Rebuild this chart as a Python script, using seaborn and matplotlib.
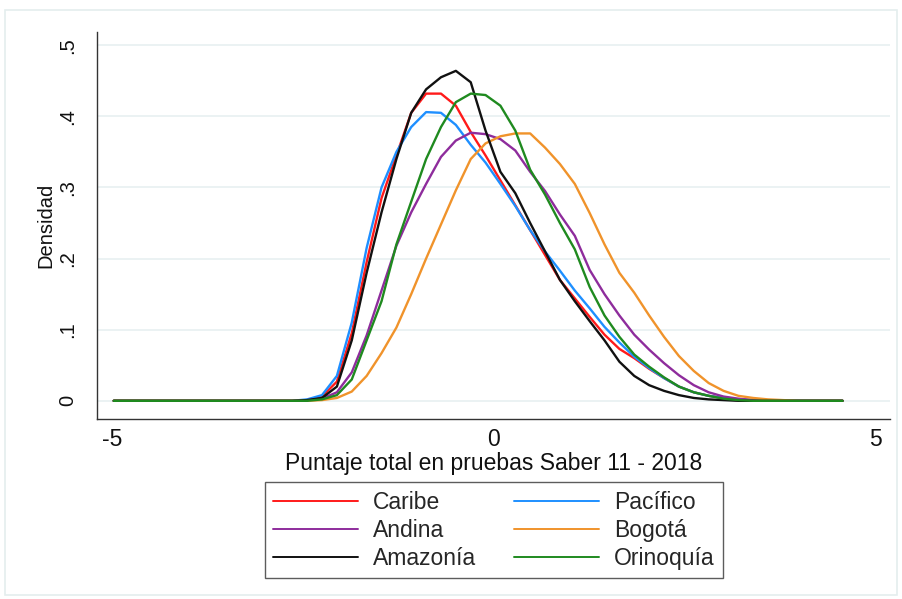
import matplotlib
matplotlib.use("Agg")
import matplotlib.pyplot as plt
import seaborn as sns
import pandas as pd
from matplotlib.patches import Rectangle
from matplotlib.lines import Line2D

# ---- data ----
x_grid = [-4.98, -2.641, -2.446, -2.251, -2.056, -1.861, -1.666, -1.471, -1.276,
          -1.082, -0.887, -0.692, -0.497, -0.302, -0.108, 0.087, 0.282, 0.477,
          0.672, 0.867, 1.062, 1.257, 1.451, 1.646, 1.841, 2.036, 2.231, 2.426,
          2.621, 2.816, 3.011, 3.206, 3.400, 3.595, 3.790, 3.985, 4.180, 4.375, 4.570]

caribe = [0.0, 0.0, 0.001, 0.006, 0.027, 0.095, 0.195, 0.285, 0.345, 0.405, 0.432, 0.432,
          0.415, 0.378, 0.345, 0.31, 0.275, 0.24, 0.205, 0.17, 0.144, 0.118, 0.093, 0.073,
          0.06, 0.045, 0.032, 0.02, 0.012, 0.007, 0.004, 0.002, 0.001, 0.0, 0.0, 0.0, 0.0, 0.0, 0.0]
pacifico = [0.0, 0.0, 0.002, 0.008, 0.035, 0.11, 0.215, 0.30, 0.35, 0.385, 0.406, 0.405,
            0.388, 0.36, 0.335, 0.305, 0.274, 0.24, 0.21, 0.183, 0.155, 0.13, 0.104, 0.082,
            0.062, 0.046, 0.032, 0.02, 0.012, 0.007, 0.004, 0.002, 0.001, 0.0, 0.0, 0.0, 0.0, 0.0, 0.0]
andina = [0.0, 0.0, 0.001, 0.003, 0.012, 0.04, 0.092, 0.155, 0.218, 0.265, 0.305, 0.343,
          0.366, 0.377, 0.375, 0.368, 0.352, 0.322, 0.295, 0.262, 0.232, 0.184, 0.15, 0.12,
          0.093, 0.072, 0.053, 0.036, 0.022, 0.012, 0.006, 0.003, 0.001, 0.0, 0.0, 0.0, 0.0, 0.0, 0.0]
bogota = [0.0, 0.0, 0.0, 0.001, 0.004, 0.013, 0.035, 0.067, 0.103, 0.15, 0.2, 0.248,
          0.296, 0.34, 0.362, 0.372, 0.376, 0.376, 0.356, 0.333, 0.305, 0.264, 0.22, 0.18,
          0.152, 0.12, 0.09, 0.063, 0.042, 0.025, 0.014, 0.007, 0.004, 0.002, 0.001, 0.0, 0.0, 0.0, 0.0]
amazonia = [0.0, 0.0, 0.001, 0.004, 0.02, 0.085, 0.18, 0.265, 0.34, 0.405, 0.438, 0.455,
            0.464, 0.448, 0.38, 0.322, 0.292, 0.25, 0.21, 0.17, 0.14, 0.112, 0.085, 0.055,
            0.035, 0.022, 0.014, 0.008, 0.004, 0.002, 0.001, 0.0, 0.0, 0.0, 0.0, 0.0, 0.0, 0.0, 0.0]
orinoquia = [0.0, 0.0, 0.0, 0.002, 0.008, 0.03, 0.085, 0.14, 0.22, 0.28, 0.34, 0.385,
             0.42, 0.432, 0.43, 0.415, 0.38, 0.325, 0.29, 0.25, 0.213, 0.16, 0.12, 0.09,
             0.065, 0.048, 0.033, 0.02, 0.012, 0.007, 0.003, 0.001, 0.0, 0.0, 0.0, 0.0, 0.0, 0.0, 0.0]

regions = ["Caribe", "Pacífico", "Andina", "Bogotá", "Amazonía", "Orinoquía"]
series = [caribe, pacifico, andina, bogota, amazonia, orinoquia]
colors = ["#ff1a1a", "#1e8fff", "#8e2c9c", "#f0932b", "#111111", "#1f8a1f"]

x_ticks = [-5, 0, 5]
y_ticks = [0, 0.1, 0.2, 0.3, 0.4, 0.5]
y_ticklabels = ["0", ".1", ".2", ".3", ".4", ".5"]

rows = []
for name, vals in zip(regions, series):
    for xv, yv in zip(x_grid, vals):
        rows.append({"x": xv, "y": yv, "Región": name})
df = pd.DataFrame(rows)

# ---- style ----
sns.set_style("white")
plt.rcParams["font.family"] = ["Liberation Sans", "DejaVu Sans"]
plt.rcParams["axes.unicode_minus"] = False

FS = 16.5   # horizontal texts
FSY = 14.5  # vertical (rotated) texts

fig = plt.figure(figsize=(9.02, 5.99), dpi=100)
ax = fig.add_axes([0.1075, 0.300, 0.879, 0.647])

sns.lineplot(data=df, x="x", y="y", hue="Región", hue_order=regions,
             palette=dict(zip(regions, colors)), estimator=None, sort=True,
             linewidth=1.7, ax=ax, legend=False)

ax.set_xlim(-5.2, 5.19)
ax.set_ylim(-0.026, 0.519)
ax.set_xticks(x_ticks)
ax.set_xticklabels([str(t) for t in x_ticks])
ax.set_yticks(y_ticks)
ax.set_yticklabels(y_ticklabels)
for yt in y_ticks:
    ax.axhline(yt, color="#e8f0f1", lw=1.2, zorder=0)

for s in ["top", "right"]:
    ax.spines[s].set_visible(False)
for s in ["left", "bottom"]:
    ax.spines[s].set_color("#333333")
    ax.spines[s].set_linewidth(1.0)

ax.tick_params(axis="both", direction="out", width=1.0, color="#333333",
               labelcolor="#111111")
ax.tick_params(axis="x", labelsize=FS, length=6, pad=0.5)
ax.tick_params(axis="y", labelsize=FSY, length=7, labelrotation=90, pad=7)
for lab in ax.get_yticklabels():
    lab.set_va("center")

ax.set_xlabel("Puntaje total en pruebas Saber 11 - 2018", fontsize=FS, color="#111111", labelpad=0.8)
ax.set_ylabel("Densidad", fontsize=FSY, color="#111111", labelpad=2)

# legend (column-first order to reproduce the row layout)
order = ["Caribe", "Andina", "Amazonía", "Pacífico", "Bogotá", "Orinoquía"]
cmap = dict(zip(regions, colors))
handles = [Line2D([0], [0], color=cmap[n], lw=1.4) for n in order]
leg = fig.legend(handles, order, loc="center", bbox_to_anchor=(0.5477, 0.115), ncol=2,
                 fontsize=FS, frameon=True, fancybox=False, handlelength=3.7,
                 handletextpad=0.65, columnspacing=1.66, labelspacing=0.22,
                 borderpad=0.38, borderaxespad=0)
leg.get_frame().set_edgecolor("#333333")
leg.get_frame().set_linewidth(1.0)

# faint outer frame
fig.patches.append(Rectangle((5 / 902, 4 / 599), 892 / 902, 585 / 599, transform=fig.transFigure,
                             fill=False, edgecolor="#e4eeee", lw=1.2))

fig.savefig("out.png", dpi=100, facecolor="white")
